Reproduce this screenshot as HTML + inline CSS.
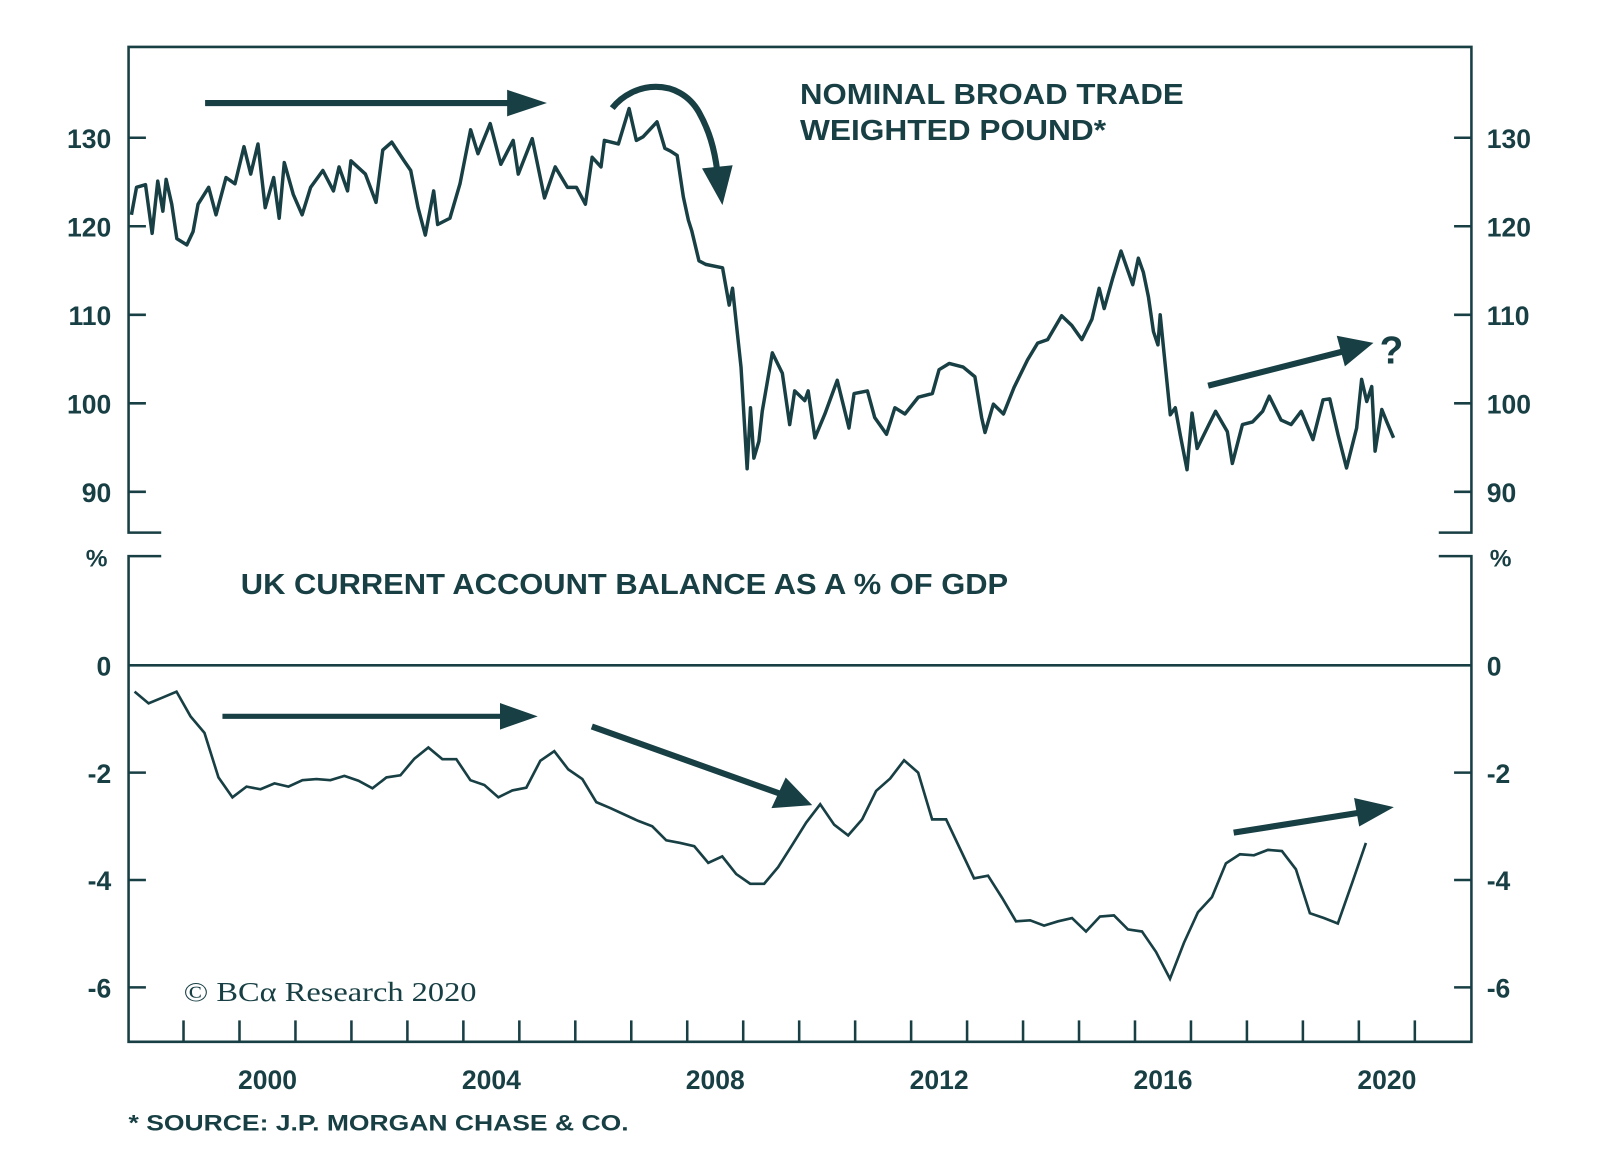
<!DOCTYPE html>
<html><head><meta charset="utf-8"><title>UK pound and current account chart</title>
<style>
html,body{margin:0;padding:0;background:#fff;}
svg{display:block;}
text{font-family:"Liberation Sans",sans-serif;fill:#173f44;font-weight:bold;}
</style></head>
<body>
<svg id="chart" width="1600" height="1160" viewBox="0 0 1600 1160" xmlns="http://www.w3.org/2000/svg">
<g id="root" transform="scale(1.0204)">
<g id="frame" stroke="#173f44" stroke-width="2.5" fill="none">
  <path d="M158,522 H126 V46 H1442 V522 H1410"/>
  <path d="M158,545 H126 V1021 H1442 V545 H1410"/>
  <line x1="126" y1="652" x2="1442" y2="652"/>
</g>
<g id="ticks" stroke="#173f44" stroke-width="2.5"></g>
<g id="labels"></g>
<g id="series"></g>
<g id="annot" fill="#173f44" stroke="#173f44">
  <line x1="201" y1="101" x2="505" y2="101" stroke-width="6"/>
  <polygon points="497,88 536,101 497,114" stroke="none"/>
  <path d="M600,106 C620,80 665,75 685,110 C695,128 700,145 703,168" fill="none" stroke-width="6"/>
  <polygon points="688,165 718,162 708,201" stroke="none"/>
  <line x1="1184" y1="378" x2="1318" y2="344" stroke-width="6"/>
  <polygon points="1310,329 1346,336 1318,359" stroke="none"/>
  <line x1="218" y1="702" x2="497" y2="702" stroke-width="5"/>
  <polygon points="490,689 527,702 490,715" stroke="none"/>
  <line x1="580" y1="712" x2="765" y2="778" stroke-width="6"/>
  <polygon points="770,762 796,789 756,792" stroke="none"/>
  <line x1="1209" y1="816" x2="1335" y2="796" stroke-width="6"/>
  <polygon points="1327,782 1366,791 1332,810" stroke="none"/>
</g>
<text x="784" y="102" font-size="28" textLength="376" lengthAdjust="spacingAndGlyphs">NOMINAL BROAD TRADE</text>
<text x="784" y="137" font-size="28" textLength="300" lengthAdjust="spacingAndGlyphs">WEIGHTED POUND*</text>
<text x="1352" y="356" font-size="38">?</text>
<text x="236" y="582" font-size="28" textLength="752" lengthAdjust="spacingAndGlyphs">UK CURRENT ACCOUNT BALANCE AS A % OF GDP</text>
<text x="84" y="555" font-size="24">%</text>
<text x="1460" y="555" font-size="24">%</text>
<text x="180" y="981" font-size="27" style="font-family:'Liberation Serif',serif;font-weight:normal" textLength="287" lengthAdjust="spacingAndGlyphs">© BCα Research 2020</text>
<text x="126" y="1108" font-size="22" textLength="490" lengthAdjust="spacingAndGlyphs">* SOURCE: J.P. MORGAN CHASE &amp; CO.</text>
</g>
</svg>
<script>
// ---- Chart data ----
const gbpDates = [1998.07,1998.16,1998.32,1998.44,1998.54,1998.63,1998.69,1998.79,1998.88,1999.06,1999.17,1999.26,1999.45,1999.58,1999.76,1999.92,2000.08,2000.20,2000.33,2000.46,2000.61,2000.71,2000.80,2000.96,2001.12,2001.27,2001.49,2001.68,2001.78,2001.93,2001.99,2002.25,2002.44,2002.56,2002.72,2002.94,2003.06,2003.19,2003.32,2003.47,2003.54,2003.76,2003.94,2004.13,2004.26,2004.48,2004.67,2004.89,2004.98,2005.23,2005.45,2005.64,2005.86,2006.02,2006.18,2006.30,2006.46,2006.52,2006.77,2006.96,2007.09,2007.21,2007.46,2007.60,
2007.70,2007.82,2007.93,2008.02,2008.08,2008.21,2008.33,2008.63,2008.75,2008.81,2008.88,2008.96,2009.00,2009.07,2009.13,2009.19,2009.28,2009.34,2009.52,2009.70,2009.83,2009.92,2010.10,2010.16,2010.28,2010.46,2010.68,2010.89,2010.98,2011.22,2011.35,2011.56,2011.71,2011.89,2012.13,2012.38,2012.50,2012.68,2012.93,2013.14,2013.26,2013.32,2013.47,2013.65,2013.84,2014.08,2014.26,2014.44,2014.69,2014.87,2015.05,2015.23,2015.36,2015.45,2015.60,2015.75,2015.96,2016.06,2016.15,2016.24,2016.33,2016.41,2016.45,2016.51,2016.63,2016.72,2016.81,2016.93,2017.02,2017.11,2017.32,2017.44,2017.65,2017.74,2017.92,2018.10,2018.28,2018.40,2018.61,2018.79,2018.97,2019.18,2019.36,2019.48,2019.63,2019.78,2019.96,2020.05,2020.14,2020.23,2020.29,2020.41,2020.50,2020.62];
const gbpValues = [121.3,124.4,124.7,119.2,125.1,121.7,125.3,122.5,118.6,117.9,119.4,122.5,124.4,121.3,125.5,124.8,129.0,125.9,129.3,122.1,125.5,120.9,127.2,123.6,121.3,124.4,126.3,124.0,126.7,124.0,127.4,125.9,122.7,128.6,129.5,127.4,126.3,122.1,119.0,124.0,120.2,120.9,124.8,130.9,128.2,131.6,127.0,129.7,125.9,129.9,123.2,126.7,124.4,124.4,122.5,127.8,126.7,129.7,129.3,133.3,129.7,130.1,131.8,128.8,
128.5,128.0,123.3,120.7,119.5,116.1,115.7,115.3,111.1,113.0,108.8,104.1,99.9,92.6,99.5,93.8,95.7,99.1,105.7,103.4,97.6,101.4,100.3,101.4,96.1,98.8,102.6,97.2,101.1,101.4,98.4,96.5,99.5,98.8,100.7,101.1,103.8,104.5,104.1,103.0,98.4,96.7,99.9,98.8,101.8,104.9,106.8,107.2,109.9,108.8,107.2,109.5,113.0,110.7,114.1,117.2,113.4,116.4,114.8,112.0,108.1,106.6,110.0,106.2,98.7,99.5,96.4,92.5,98.9,94.9,97.6,99.1,96.8,93.2,97.6,97.9,99.1,100.8,98.1,97.6,99.1,95.9,100.4,100.5,96.4,92.7,97.2,102.7,100.2,101.9,94.6,99.3,97.9,96.1,98.7];
const caStart = 1998.125;
const caStep = 0.25;
const caValues = [-0.49,-0.71,-0.60,-0.49,-0.95,-1.26,-2.09,-2.46,-2.26,-2.31,-2.20,-2.26,-2.14,-2.12,-2.14,-2.06,-2.15,-2.29,-2.09,-2.05,-1.74,-1.53,-1.75,-1.75,-2.14,-2.23,-2.46,-2.33,-2.28,-1.78,-1.60,-1.94,-2.12,-2.55,-2.66,-2.78,-2.90,-3.00,-3.26,-3.31,-3.37,-3.68,-3.56,-3.89,
-4.07,-4.07,-3.76,-3.35,-2.93,-2.59,-2.97,-3.17,-2.87,-2.34,-2.11,-1.77,-2.00,-2.87,-2.87,-3.42,-3.97,-3.92,-4.33,-4.77,-4.75,-4.85,-4.77,-4.71,-4.96,-4.68,-4.66,-4.92,-4.96,-5.34,-5.84,-5.17,-4.60,-4.32,-3.69,-3.52,-3.54,-3.44,-3.46,-3.80,-4.62,-4.71,-4.81,-4.07,-3.31];
const topTicks = [130,120,110,100,90];
const bottomTicks = [0,-2,-4,-6];
const yearLabels = [2000,2004,2008,2012,2016,2020];
const yearTicks = [1999,2000,2001,2002,2003,2004,2005,2006,2007,2008,2009,2010,2011,2012,2013,2014,2015,2016,2017,2018,2019,2020,2021];

// ---- Axis functions ----
const NS = "http://www.w3.org/2000/svg";
function xScale(t){ return 125 + (t - 1998) * 54.85; }
function yTop(v){ return 135 + (130 - v) * 8.675; }
function yBot(v){ return 652 - v * 52.6; }

function mk(tag, attrs, parent){
  const e = document.createElementNS(NS, tag);
  for (const k in attrs) e.setAttribute(k, attrs[k]);
  parent.appendChild(e);
  return e;
}
const ticksG = document.getElementById('ticks');
const labelsG = document.getElementById('labels');
const seriesG = document.getElementById('series');

topTicks.forEach(v => {
  const y = yTop(v);
  const l1 = mk('line', {x1:126, y1:y, x2:143, y2:y}, ticksG);
  
  
  const l2 = mk('line', {x1:1425, y1:y, x2:1442, y2:y}, ticksG);
  
  
  const t1 = mk('text', {x:109, y:y+10, 'font-size':26, 'text-anchor':'end'}, labelsG);
  t1.textContent = v;
  
  
  const t2 = mk('text', {x:1457, y:y+10, 'font-size':26}, labelsG);
  t2.textContent = v;
  
  
});
bottomTicks.forEach(v => {
  const y = yBot(v);
  if (v !== 0) {
    const l1 = mk('line', {x1:126, y1:y, x2:143, y2:y}, ticksG);
    
    
    const l2 = mk('line', {x1:1425, y1:y, x2:1442, y2:y}, ticksG);
    
    
  }
  const t1 = mk('text', {x:109, y:y+10, 'font-size':26, 'text-anchor':'end'}, labelsG);
  t1.textContent = v;
  
  
  const t2 = mk('text', {x:1457, y:y+10, 'font-size':26}, labelsG);
  t2.textContent = v;
  
  
});
yearTicks.forEach(yr => {
  const x = xScale(yr);
  const l = mk('line', {x1:x, y1:1000, x2:x, y2:1021}, ticksG);
  
  
});
yearLabels.forEach(yr => {
  const x = xScale(yr + 0.5);
  const t = mk('text', {x:x, y:1067, 'font-size':26, 'text-anchor':'middle'}, labelsG);
  t.textContent = yr;
  
  
});

let d1 = '';
gbpDates.forEach((t, i) => { d1 += (i ? 'L' : 'M') + xScale(t).toFixed(1) + ',' + yTop(gbpValues[i]).toFixed(1); });
const p1 = mk('path', {d:d1, fill:'none', stroke:'#173f44', 'stroke-width':3.4, 'stroke-linejoin':'round'}, seriesG);



let d2 = '';
caValues.forEach((v, i) => { d2 += (i ? 'L' : 'M') + xScale(caStart + i * caStep).toFixed(1) + ',' + yBot(v).toFixed(1); });
const p2 = mk('path', {d:d2, fill:'none', stroke:'#173f44', 'stroke-width':2.6, 'stroke-linejoin':'miter'}, seriesG);


</script>
</body></html>
